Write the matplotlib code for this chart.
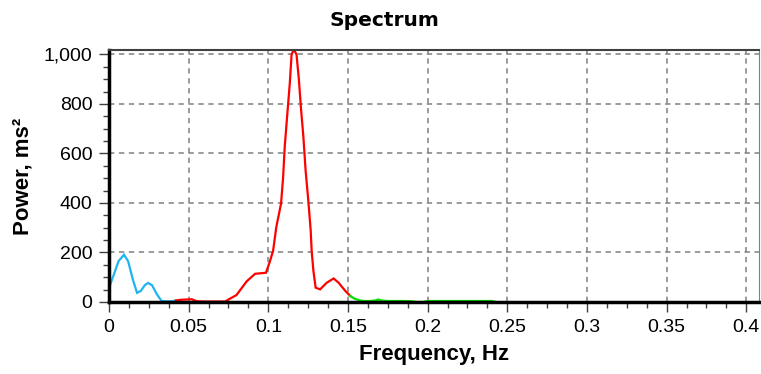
import numpy as np
import matplotlib
matplotlib.use("Agg")
import matplotlib.pyplot as plt
from matplotlib.ticker import MultipleLocator, FuncFormatter

# VLF band (blue)
vlf_freq = [0.0, 0.003, 0.006, 0.0094, 0.012, 0.015, 0.0176, 0.020, 0.0225, 0.0245,
            0.027, 0.030, 0.033, 0.036, 0.039, 0.042]
vlf_power = [57, 110, 165, 191, 165, 90, 37, 45, 68, 77, 68, 32, 4, 3, 3, 6]

# LF band (red)
lf_freq = [0.042, 0.045, 0.052, 0.055, 0.060, 0.065, 0.070, 0.073, 0.075, 0.080,
           0.0865, 0.0917, 0.0985, 0.1008, 0.103, 0.105, 0.108, 0.1093, 0.1103,
           0.1118, 0.1135, 0.1146, 0.116, 0.1177, 0.1192, 0.1204, 0.122, 0.1234,
           0.1251, 0.1266, 0.1272, 0.1283, 0.1297, 0.1325, 0.1367, 0.141, 0.1441,
           0.1483, 0.1515]
lf_power = [6, 9, 11, 3, 2, 2, 2, 2, 10, 28, 84, 114, 118, 160, 207, 302, 398, 505,
            627, 749, 885, 1000, 1020, 1000, 898, 790, 668, 532, 410, 289, 207, 126,
            58, 51, 78, 95, 78, 45, 24]

# HF band (green)
hf_freq = [0.1515, 0.154, 0.157, 0.160, 0.164, 0.167, 0.169, 0.171, 0.175, 0.180,
           0.185, 0.190, 0.193, 0.197, 0.200, 0.210, 0.220, 0.230, 0.240, 0.243]
hf_power = [24, 14, 7, 4, 4, 6, 10, 6, 4, 4, 4, 3, 0, 0, 4, 4, 4, 4, 4, 0]

fig = plt.figure(figsize=(7.61, 3.74), dpi=100)
ax = fig.add_axes([109 / 761, 1 - 302 / 374, 650 / 761, 252 / 374])

ax.plot(vlf_freq, vlf_power, color="#1eb4f0", lw=1.6, solid_joinstyle="miter")
ax.plot(lf_freq, lf_power, color="#ff0000", lw=1.6, solid_joinstyle="miter")
ax.plot(hf_freq, hf_power, color="#00e000", lw=1.6, solid_joinstyle="miter")

ax.set_xlim(0, 0.408)
ax.set_ylim(0, 1018)
ax.xaxis.set_major_locator(MultipleLocator(0.05))
ax.xaxis.set_minor_locator(MultipleLocator(0.0125))
ax.yaxis.set_major_locator(MultipleLocator(200))
ax.yaxis.set_minor_locator(MultipleLocator(50))
ax.xaxis.set_major_formatter(FuncFormatter(lambda v, p: f"{v:g}"))
ax.yaxis.set_major_formatter(FuncFormatter(lambda v, p: f"{v:,.0f}"))

ax.grid(True, which="major", color="#808080", ls=(0, (3.5, 3)), lw=1.1)
ax.set_axisbelow(True)

for side in ("left", "bottom"):
    ax.spines[side].set_linewidth(2.5)
    ax.spines[side].set_color("black")
ax.spines["top"].set_linewidth(1.5)
ax.spines["top"].set_color("#404040")
ax.spines["right"].set_linewidth(0.8)
ax.spines["right"].set_color("#808080")

ax.tick_params(which="major", direction="out", length=7, width=1, color="#404040",
               labelsize=14, pad=5)
ax.tick_params(which="minor", direction="out", length=4, width=1, color="#404040")
for lbl in ax.get_xticklabels() + ax.get_yticklabels():
    lbl.set_family("Liberation Sans")

ax.set_xlabel("Frequency, Hz", family="Liberation Sans", fontweight="bold",
              fontsize=16, labelpad=6)
ax.set_ylabel("Power, ms²", family="Liberation Sans", fontweight="bold",
              fontsize=16, labelpad=7)
fig.text(0.505, 0.97, "Spectrum", ha="center", va="top", family="DejaVu Sans",
         fontweight="bold", fontsize=14.5)

fig.savefig("out.png", dpi=100)
